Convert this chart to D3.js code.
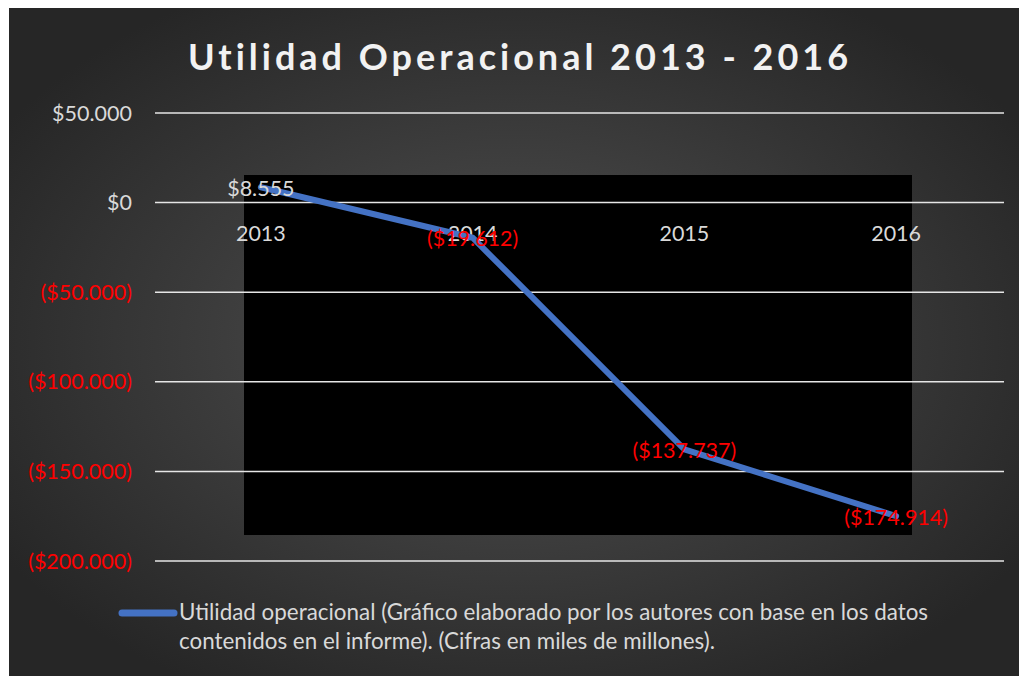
<!DOCTYPE html>
<html><head><meta charset="utf-8">
<script src="https://cdn.jsdelivr.net/npm/d3@7"></script>
<style>body{margin:0;background:#fff}svg{display:block}</style>
</head><body>
<script>
const categories = ["2013","2014","2015","2016"];
const values = [8555, -19612, -137737, -174914];
const dataLabels = ["$8.555","($19.612)","($137.737)","($174.914)"];
const yTicks = [50000, 0, -50000, -100000, -150000, -200000];
const yTickLabels = ["$50.000","$0","($50.000)","($100.000)","($150.000)","($200.000)"];
const title = "Utilidad Operacional 2013 - 2016";
const legendLines = ["Utilidad operacional (Gráfico elaborado por los autores con base en los datos","contenidos en el informe). (Cifras en miles de millones)."];

const W = 1019, H = 676;
const font = "Lato, 'Open Sans', sans-serif";
const svg = d3.select("body").append("svg").attr("width", W).attr("height", H);
const defs = svg.append("defs");
const rg = defs.append("radialGradient").attr("id","bg").attr("cx","50%").attr("cy","50%").attr("r","60%");
rg.append("stop").attr("offset","0%").attr("stop-color","#525252");
rg.append("stop").attr("offset","100%").attr("stop-color","#262626");
svg.append("rect").attr("x",9).attr("y",8).attr("width",W-9).attr("height",H-8).attr("fill","url(#bg)");

const x = d3.scaleBand().domain(categories).range([155, 1002]);
const y = d3.scaleLinear().domain([-200000, 50000]).range([561, 113]);

// black plot fill
svg.append("rect").attr("x",244).attr("y",175).attr("width",668).attr("height",360).attr("fill","#000");

// gridlines
svg.append("g").selectAll("line").data(yTicks).join("line")
  .attr("x1",155).attr("x2",1004).attr("y1",d=>y(d)).attr("y2",d=>y(d))
  .attr("stroke","#e6e6e6").attr("stroke-width",1.5);

// y tick labels
svg.append("g").selectAll("text").data(yTicks).join("text")
  .attr("x",132).attr("y",d=>y(d)).attr("dy","0.35em").attr("text-anchor","end")
  .attr("font-family",font).attr("font-size",21.5)
  .attr("fill",d=>d<0?"#ff0000":"#d9d9d9")
  .text((d,i)=>yTickLabels[i]);

// category labels
svg.append("g").selectAll("text").data(categories).join("text")
  .attr("x",d=>x(d)+x.bandwidth()/2).attr("y",y(0)+31).attr("dy","0.35em").attr("text-anchor","middle")
  .attr("font-family",font).attr("font-size",21.5).attr("fill","#d9d9d9").text(d=>d);

// line
const pts = categories.map((c,i)=>[x(c)+x.bandwidth()/2, y(values[i])]);
svg.append("path").attr("d", d3.line()(pts)).attr("fill","none")
  .attr("stroke","#4472c4").attr("stroke-width",6).attr("stroke-linecap","round").attr("stroke-linejoin","round");

// data labels
svg.append("g").selectAll("text").data(values).join("text")
  .attr("x",(d,i)=>pts[i][0]).attr("y",(d,i)=>pts[i][1]+1).attr("dy","0.35em").attr("text-anchor","middle")
  .attr("font-family",font).attr("font-size",21.5)
  .attr("fill",d=>d<0?"#ff0000":"#d9d9d9").text((d,i)=>dataLabels[i]);

// title
svg.append("text").attr("x",520).attr("y",57).attr("dy","0.35em").attr("text-anchor","middle")
  .attr("font-family",font).attr("font-weight","bold").attr("font-size",36).attr("letter-spacing",4)
  .attr("fill","#f2f2f2").text(title);

// legend
svg.append("line").attr("x1",122).attr("x2",174).attr("y1",613).attr("y2",613)
  .attr("stroke","#4472c4").attr("stroke-width",7).attr("stroke-linecap","round");
svg.append("g").selectAll("text").data(legendLines).join("text")
  .attr("x",179).attr("y",(d,i)=>612+i*29).attr("dy","0.35em")
  .attr("font-family",font).attr("font-size",22.4).attr("fill","#d9d9d9").text(d=>d);
</script>
</body></html>
